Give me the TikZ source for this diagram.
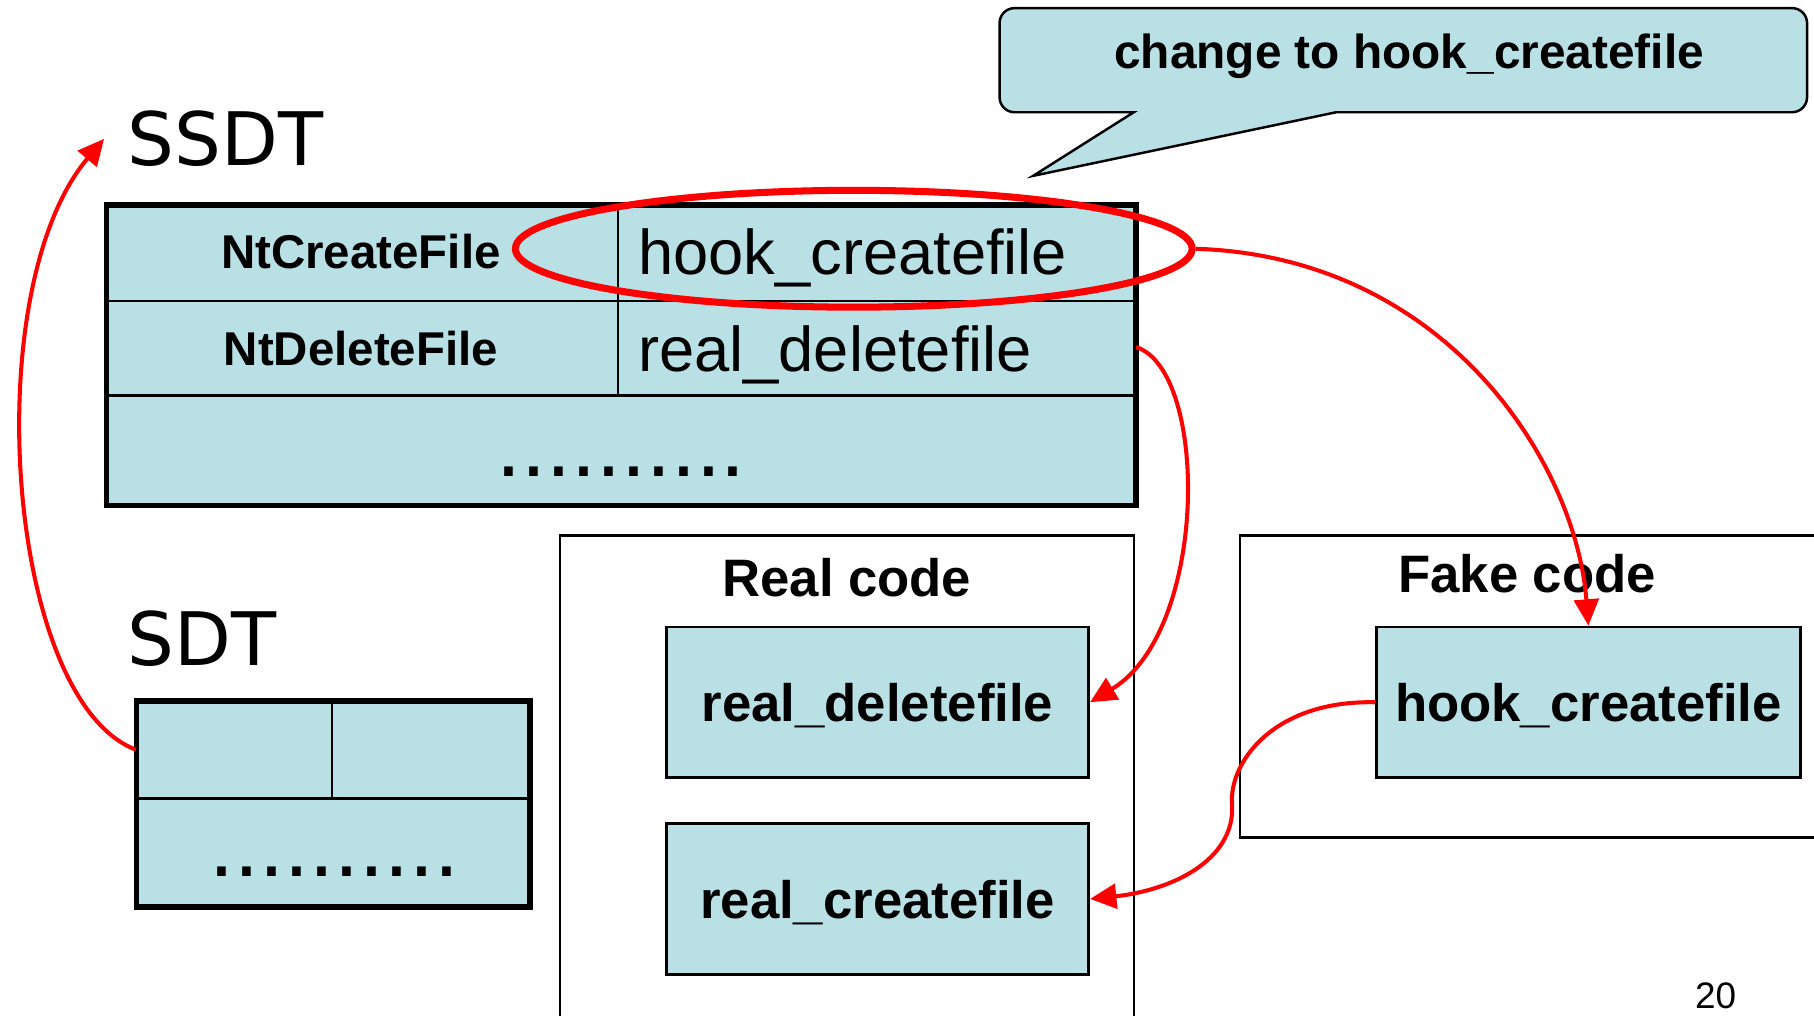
\documentclass[tikz,border=0pt]{standalone}
\usepackage{fontspec}
\setmainfont{Liberation Sans}
\newfontfamily\titlefont{DejaVu Sans}
\usetikzlibrary{arrows.meta,shapes.geometric}
\definecolor{cellblue}{RGB}{185,224,228}
\newcommand{\pxl}{0.1157mm}

\tikzset{
    frame/.style={line width=1.6pt},
    grid/.style={line width=0.7pt},
    rowname/.style={anchor=base, inner sep=0pt, font=\bfseries\fontsize{13.5}{13.5}\selectfont},
    rowval/.style={anchor=base west, inner sep=0pt, font=\fontsize{18}{18}\selectfont},
    dots/.style={anchor=base, inner sep=0pt, font=\fontsize{25.5}{25.5}\selectfont},
    title/.style={anchor=base west, inner sep=0pt, font=\titlefont\fontsize{21}{21}\selectfont},
    codebox/.style={draw, fill=cellblue, line width=0.8pt, inner sep=0pt, text depth=0pt,
        minimum width=365*\pxl, minimum height=130*\pxl, font=\bfseries\fontsize{15}{15}\selectfont},
    boxtitle/.style={anchor=base, inner sep=0pt, font=\bfseries\fontsize{15}{15}\selectfont},
    hookarrow/.style={red, line width=1.15pt, -{Triangle[length=7.5pt,width=7pt]}}
}

\begin{document}
\begin{tikzpicture}[x=\pxl, y=-\pxl]
    \useasboundingbox (0,0) rectangle (1568,878);
    \clip (0,0) rectangle (1568,878);

    \filldraw[fill=cellblue, line width=0.7pt] (893,152) -- (980,97) [rounded corners=1.5mm] -- (864,97) -- (864,7) -- (1562,7) -- (1562,97) [sharp corners] -- (1155,97) -- cycle;
    \node[anchor=base, inner sep=0pt, font=\bfseries\fontsize{13.6}{13.6}\selectfont] (note) at (1218,59) {change to hook\_createfile};

    \node[title] (ssdt) at (110,143) {SSDT};
    \coordinate (ssdtin) at (90,120);
    \fill[cellblue] (92,177) rectangle (982,437);
    \draw[grid] (92,260) -- (982,260) (92,342) -- (982,342) (534,177) -- (534,342);
    \draw[frame] (92,177) rectangle (982,437);
    \node[rowname] (ntcreate) at (312,232) {NtCreateFile};
    \node[rowname] (ntdelete) at (312,316) {NtDeleteFile};
    \node[rowval] (hookval) at (551,237) {hook\_createfile};
    \node[rowval] (realval) at (551,321) {real\_deletefile};
    \coordinate (delslot) at (982,300);
    \node[dots] (ssdtdots) at (537,412) {..........};
    \node[draw=red, line width=2pt, ellipse, inner sep=0pt, minimum width=585*\pxl, minimum height=101*\pxl] (mark) at (738,215) {};

    \node[title] (sdt) at (110,575) {SDT};
    \fill[cellblue] (118,606) rectangle (458,784);
    \draw[grid] (118,690) -- (458,690) (287,606) -- (287,690);
    \draw[frame] (118,606) rectangle (458,784);
    \node[inner sep=0pt, minimum width=169*\pxl, minimum height=84*\pxl] (sdtcell) at (202.5,648) {};
    \node[dots] (sdtdots) at (289,758) {..........};

    \draw[line width=0.7pt] (484,878) -- (484,463) -- (980,463) -- (980,878);
    \node[boxtitle] (realtitle) at (732,516) {Real code};
    \node[codebox] (realdel) at (758.5,607) {real\_deletefile};
    \node[codebox] (realcre) at (758.5,777) {real\_createfile};

    \draw[line width=0.7pt] (1568,463) -- (1072,463) -- (1072,724) -- (1568,724);
    \node[boxtitle] (faketitle) at (1320,512) {Fake code};
    \node[codebox, minimum width=366*\pxl] (hookbox) at (1373,607) {hook\_createfile};

    \node[anchor=base, inner sep=0pt, font=\fontsize{10.5}{10.5}\selectfont] (page) at (1483,872) {20};

    \draw[hookarrow] (sdtcell.west) .. controls (5,605) and (-20,250) .. (ssdtin);
    \draw[hookarrow] (mark.east) .. controls (1250,222) and (1362,400) .. (hookbox.north);
    \draw[hookarrow] (delslot) .. controls (1045,320) and (1045,545) .. (realdel.east);
    \draw[hookarrow] (hookbox.west) .. controls (1100,605) and (1062,660) .. (1065,695) .. controls (1068,745) and (1010,770) .. (realcre.east);
\end{tikzpicture}
\end{document}
